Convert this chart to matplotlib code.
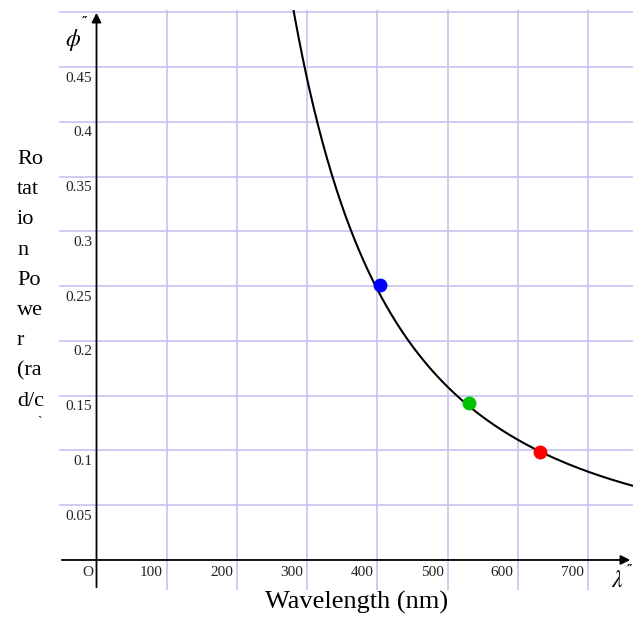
import numpy as np
import matplotlib
matplotlib.use("Agg")
import matplotlib.pyplot as plt

# ---- data ----
wavelengths = [404, 531, 632]          # nm
rotation = [0.251, 0.143, 0.099]       # rad/cm
point_colors = ["#0000ff", "#00c000", "#ff0000"]
curve_k = 39500                        # curve: phi = k / lambda^2
x_ticks = [100, 200, 300, 400, 500, 600, 700]
y_ticks = [0.05, 0.1, 0.15, 0.2, 0.25, 0.3, 0.35, 0.4, 0.45, 0.5]
y_tick_labels = ["0.05", "0.1", "0.15", "0.2", "0.25", "0.3", "0.35", "0.4", "0.45", ""]

plt.rcParams["mathtext.fontset"] = "stix"
W, H = 633, 618
fig = plt.figure(figsize=(W / 100, H / 100), dpi=100)
left, right, top, bottom = 59, 633, 10, 590
ax = fig.add_axes([left / W, (H - bottom) / H, (right - left) / W, (bottom - top) / H])
ax.set_xlim(-53.4, 764)
ax.set_ylim(-0.0274, 0.502)
for s in ax.spines.values():
    s.set_visible(False)
ax.set_xticks([])
ax.set_yticks([])

grid_c = "#c4c4f0"
for xv in x_ticks:
    ax.axvline(xv, color=grid_c, lw=1.2, zorder=1)
for yv in y_ticks:
    ax.axhline(yv, color=grid_c, lw=1.2, zorder=1)

# axes with arrows
ax.annotate("", xy=(1.0, 0), xycoords=("axes fraction", "data"),
            xytext=(0.0, 0), textcoords=("axes fraction", "data"),
            arrowprops=dict(arrowstyle="-|>", color="black", lw=1.3, mutation_scale=14),
            zorder=3)
ax.annotate("", xy=(0, 1.0), xycoords=("data", "axes fraction"),
            xytext=(0, 0.0), textcoords=("data", "axes fraction"),
            arrowprops=dict(arrowstyle="-|>", color="black", lw=1.3, mutation_scale=14),
            zorder=3)

# tick labels
tick_font = dict(family="Liberation Serif", fontsize=11, color="#222222")
for xv in x_ticks:
    ax.annotate(str(xv), xy=(xv, 0), xytext=(-3, -9), textcoords="offset points",
                ha="right", va="center", **tick_font)
ax.annotate("O", xy=(0, 0), xytext=(-6, -9), textcoords="offset points",
            ha="center", va="center", **tick_font)
for yv, lab in zip(y_ticks, y_tick_labels):
    if lab:
        ax.annotate(lab, xy=(0, yv), xytext=(-3, -8), textcoords="offset points",
                    ha="right", va="center", **tick_font)

# curve and points
lam = np.linspace(250, 770, 400)
ax.plot(lam, curve_k / lam ** 2, color="black", lw=1.5, zorder=4)
for xv, yv, c in zip(wavelengths, rotation, point_colors):
    ax.plot(xv, yv, "o", color=c, markersize=9, zorder=5)

# axis symbols
fig.text(73 / W, 1 - 40 / H, r"$\phi$", fontsize=17, ha="center", va="center")
fig.text(617 / W, 1 - 580 / H, r"$\lambda$", fontsize=17, ha="center", va="center")
fig.text(85 / W, 1 - 21 / H, "\u2033", fontsize=9, fontweight="bold", ha="center", va="center")
fig.text(630 / W, 1 - 569 / H, "\u2033", fontsize=9, fontweight="bold", ha="center", va="center")

# axis titles
fig.text(357 / W, 1 - 602 / H, "Wavelength (nm)", family="Liberation Serif",
         fontsize=19, ha="center", va="center")
fig.text(17 / W, 1 - 150 / H, "Ro\ntat\nio\nn\nPo\nwe\nr\n(ra\nd/c",
         family="Liberation Serif", fontsize=16, ha="left", va="top", linespacing=1.80)
fig.text(39 / W, 1 - 423 / H, "`", family="Liberation Serif", fontsize=10,
         ha="center", va="center")

fig.savefig("out.png", dpi=100)
